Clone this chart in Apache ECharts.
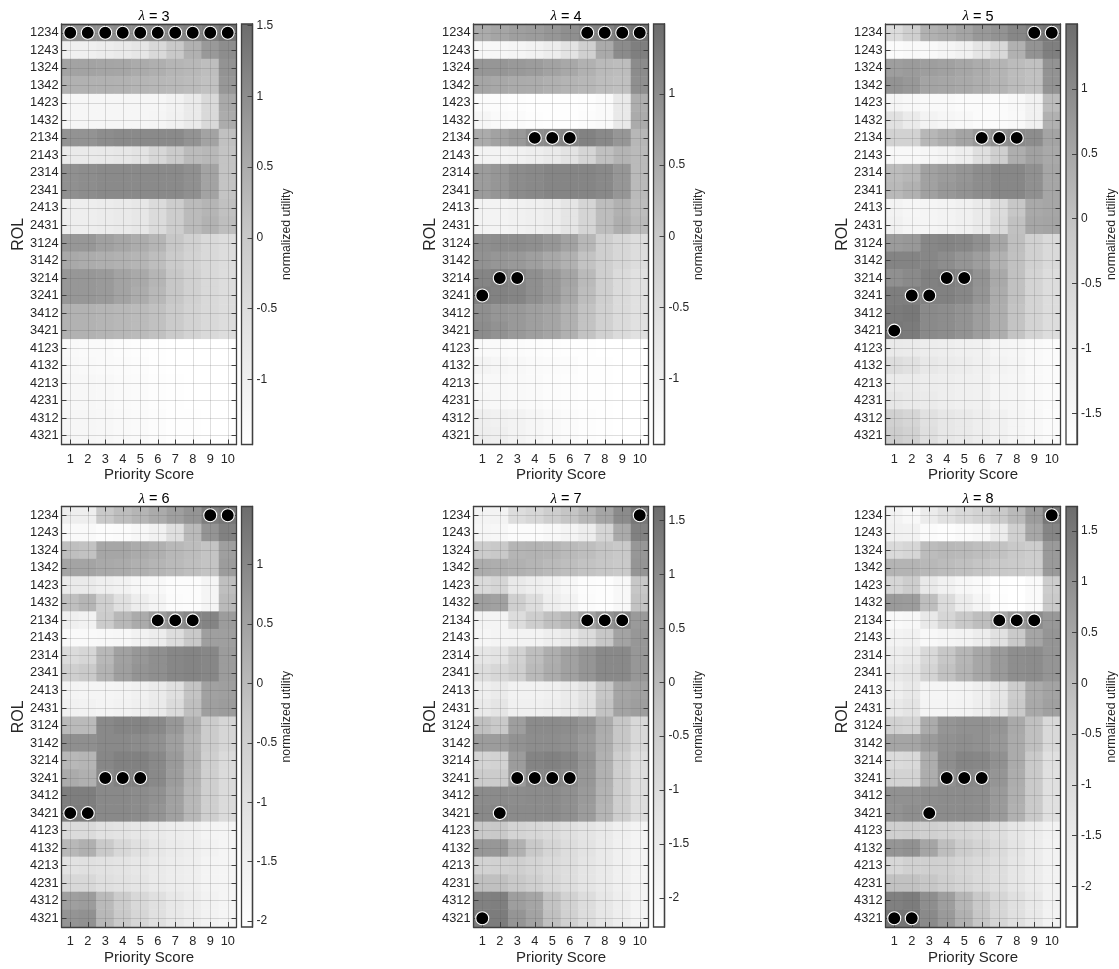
<!DOCTYPE html>
<html><head><meta charset="utf-8">
<style>html,body{margin:0;padding:0;background:#fff}#c{width:1119px;height:969px}</style>
<script src="https://cdn.jsdelivr.net/npm/echarts@6/dist/echarts.min.js"></script>
</head><body><div id="c"></div>
<script>
const scores = ['1','2','3','4','5','6','7','8','9','10'];
const rols = ['1234','1243','1324','1342','1423','1432','2134','2143','2314','2341','2413','2431','3124','3142','3214','3241','3412','3421','4123','4132','4213','4231','4312','4321'];
const lambdas = [3,4,5,6,7,8];
const rangeMin = [-1.46,-1.46,-1.74,-2.05,-2.27,-2.40];
const rangeMax = [1.51,1.49,1.50,1.49,1.63,1.74];
const cbTicks = [
 [-1,-0.5,0,0.5,1,1.5],
 [-1,-0.5,0,0.5,1],
 [-1.5,-1,-0.5,0,0.5,1],
 [-2,-1.5,-1,-0.5,0,0.5,1],
 [-2,-1.5,-1,-0.5,0,0.5,1,1.5],
 [-2,-1.5,-1,-0.5,0,0.5,1,1.5]
];
const bestL3 = ['1234','1234','1234','1234','1234','1234','1234','1234','1234','1234'];
const bestL4 = ['3241','3214','3214','2134','2134','2134','1234','1234','1234','1234'];
const bestL5 = ['3421','3241','3241','3214','3214','2134','2134','2134','1234','1234'];
const bestL6 = ['3421','3421','3241','3241','3241','2134','2134','2134','1234','1234'];
const bestL7 = ['4321','3421','3241','3241','3241','3241','2134','2134','2134','1234'];
const bestL8 = ['4321','4321','3421','3241','3241','3241','2134','2134','2134','1234'];

const utilL3 = [
[.95,.95,.95,1,1,1.05,1.1,1.15,1.25,1.4],
[-1,-1,-.92,-.85,-.73,-.4,0,.42,.82,1],
[.65,.65,.62,.6,.52,.45,.35,.3,.2,.9],
[.42,.42,.42,.4,.35,.32,.28,.22,.15,.85],
[-1.2,-1.2,-1.2,-1.2,-1.2,-1.18,-1.08,-.85,-.4,.55],
[-1.2,-1.2,-1.2,-1.2,-1.18,-1.15,-1.05,-.85,-.4,.5],
[.9,.9,1,1.05,1.05,1.05,1.05,.9,.65,.15],
[-.85,-.85,-.8,-.75,-.65,-.35,-.05,.25,.3,.1],
[.95,1,1.05,1.05,1.05,1.05,1.05,.95,.65,.1],
[.95,1,1.05,1.05,1.05,1.05,1.05,.95,.65,.1],
[-.95,-.95,-.9,-.85,-.75,-.45,-.1,.25,.35,.15],
[-.95,-.95,-.9,-.85,-.75,-.45,-.1,.25,.4,.2],
[.85,.85,.7,.6,.5,.35,.05,-.2,-.4,-.5],
[.55,.5,.45,.4,.35,.2,-.05,-.25,-.4,-.5],
[.85,.85,.8,.65,.55,.35,.05,-.2,-.4,-.5],
[.85,.85,.8,.65,.5,.3,.05,-.2,-.4,-.5],
[.4,.4,.35,.3,.25,.15,-.05,-.25,-.4,-.5],
[.4,.4,.35,.3,.25,.15,-.05,-.25,-.4,-.5],
[-1.28,-1.3,-1.32,-1.36,-1.4,-1.42,-1.45,-1.46,-1.46,-1.46],
[-1.25,-1.28,-1.3,-1.34,-1.38,-1.42,-1.45,-1.46,-1.46,-1.46],
[-1.22,-1.22,-1.26,-1.3,-1.35,-1.4,-1.44,-1.46,-1.46,-1.46],
[-1.22,-1.22,-1.26,-1.3,-1.35,-1.4,-1.44,-1.46,-1.46,-1.46],
[-1.2,-1.2,-1.22,-1.28,-1.32,-1.38,-1.42,-1.44,-1.46,-1.46],
[-1.2,-1.2,-1.22,-1.28,-1.32,-1.38,-1.42,-1.44,-1.46,-1.46]];
const utilL4 = [
[.5,.6,.7,.75,.85,.95,1.1,1.15,1.3,1.4],
[-1.26,-1.22,-1.16,-1.08,-.92,-.66,-.17,.52,1.02,1.2],
[.85,.85,.8,.75,.65,.55,.4,.25,.2,1],
[.6,.55,.5,.48,.42,.35,.3,.2,.15,.95],
[-1.35,-1.38,-1.4,-1.42,-1.44,-1.44,-1.4,-1.3,-.8,.45],
[-1.2,-1.3,-1.35,-1.4,-1.42,-1.42,-1.38,-1.3,-.8,.5],
[.5,.65,.8,1,1.05,1.1,1.15,1.05,.85,.3],
[-1.1,-1.1,-1.05,-.95,-.85,-.65,-.3,.15,.35,.25],
[.75,.85,1,1.05,1.1,1.1,1.1,1.05,.85,.25],
[.75,.85,1,1.05,1.1,1.1,1.1,1.05,.85,.25],
[-1.1,-1.1,-1.05,-1,-.9,-.7,-.3,.2,.4,.2],
[-1.1,-1.1,-1.05,-1,-.9,-.7,-.3,.2,.45,.25],
[.95,1,1,.95,.85,.65,.3,-.15,-.35,-.5],
[.9,.85,.8,.7,.55,.4,.1,-.15,-.35,-.5],
[1.1,1.2,1.1,.95,.8,.6,.25,-.15,-.45,-.6],
[1.2,1.15,1.1,.95,.8,.55,.2,-.15,-.45,-.6],
[.95,.85,.8,.7,.6,.4,.1,-.2,-.45,-.6],
[1,.9,.8,.7,.6,.4,.1,-.2,-.45,-.6],
[-1.3,-1.32,-1.35,-1.38,-1.4,-1.42,-1.44,-1.46,-1.46,-1.46],
[-1.15,-1.2,-1.25,-1.3,-1.34,-1.38,-1.42,-1.44,-1.46,-1.46],
[-1.25,-1.25,-1.28,-1.32,-1.36,-1.4,-1.42,-1.44,-1.46,-1.46],
[-1.22,-1.25,-1.28,-1.32,-1.36,-1.4,-1.42,-1.44,-1.46,-1.46],
[-1,-1.05,-1.12,-1.2,-1.28,-1.34,-1.4,-1.42,-1.45,-1.46],
[-.95,-1,-1.1,-1.2,-1.28,-1.34,-1.4,-1.42,-1.45,-1.46]];
const utilL5 = [
[-.66,-.3,.3,.4,.55,.75,.85,1.05,1.25,1.35],
[-1.6,-1.55,-1.53,-1.4,-1.3,-.9,-.55,.3,.85,1.18],
[.65,.7,.65,.6,.5,.4,.25,.1,0,.85],
[.85,.75,.55,.5,.45,.35,.25,.1,0,.85],
[-1.4,-1.5,-1.55,-1.55,-1.6,-1.6,-1.62,-1.5,-1.3,.1],
[-.8,-1.1,-1.35,-1.45,-1.52,-1.6,-1.62,-1.55,-1.3,.3],
[-.4,-.4,.2,.35,.55,.75,.9,1,.95,.55],
[-1.5,-1.5,-1.45,-1.35,-1.2,-.75,-.3,.35,.6,.45],
[.1,.2,.6,.7,.8,.95,1.05,1.05,.9,.5],
[.15,.3,.6,.75,.85,.95,1.05,1.05,.9,.5],
[-1.35,-1.45,-1.4,-1.35,-1.25,-1.05,-.65,-.1,.45,.5],
[-1.3,-1.4,-1.4,-1.35,-1.25,-1.05,-.6,0,.5,.55],
[.7,.75,1.05,1.1,1.05,.9,.5,.05,-.35,-.6],
[1.1,1.1,1.05,.95,.8,.65,.3,0,-.35,-.6],
[.9,1,1.15,1.2,1.1,.85,.45,0,-.45,-.7],
[1.2,1.2,1.15,1.15,1.05,.8,.4,0,-.45,-.7],
[1.25,1.3,1,.95,.85,.65,.35,-.05,-.45,-.7],
[1.3,1.25,1,.95,.85,.65,.35,-.05,-.45,-.7],
[-1.05,-1.1,-1.15,-1.2,-1.25,-1.3,-1.4,-1.45,-1.55,-1.6],
[-.7,-.8,-1,-1.1,-1.15,-1.25,-1.35,-1.4,-1.55,-1.6],
[-1.1,-1.1,-1.15,-1.2,-1.25,-1.3,-1.4,-1.45,-1.55,-1.6],
[-.95,-1.05,-1.1,-1.18,-1.25,-1.3,-1.4,-1.45,-1.55,-1.6],
[-.35,-.5,-.8,-.95,-1.05,-1.2,-1.3,-1.4,-1.5,-1.6],
[-.25,-.4,-.75,-.95,-1.05,-1.2,-1.3,-1.4,-1.5,-1.6]];
const utilL6 = [
[-1.45,-1.45,-.3,-.05,.1,.3,.55,.75,1.15,1.3],
[-1.85,-1.85,-1.95,-1.9,-1.78,-1.55,-.95,0,.75,1.1],
[-.1,-.15,.4,.4,.3,.2,.05,-.05,-.2,.55],
[.45,.45,.35,.3,.2,.1,0,-.1,-.2,.6],
[-1.3,-1.3,-1.5,-1.6,-1.75,-1.8,-1.95,-1.95,-1.7,-.1],
[-.1,.1,-.5,-1,-1.4,-1.65,-1.9,-1.95,-1.7,0],
[-1.5,-1.6,-.4,.05,.3,.6,.85,1,1.05,.6],
[-1.85,-1.85,-1.8,-1.75,-1.6,-1.4,-.9,-.3,.55,.55],
[-.85,-.7,.05,.5,.7,.85,1,1.05,1,.6],
[-.5,-.35,.15,.55,.75,.85,1,1.05,1,.6],
[-1.65,-1.7,-1.7,-1.65,-1.55,-1.35,-1,-.2,.5,.55],
[-1.55,-1.6,-1.65,-1.6,-1.5,-1.3,-.85,-.1,.55,.6],
[0,0,.95,1.05,1.05,.95,.7,.2,-.4,-.7],
[.85,.85,.95,.95,.9,.8,.55,.1,-.4,-.7],
[.05,.1,1,1.1,1.1,.95,.65,.15,-.5,-.85],
[.3,.2,.95,1.1,1.1,.95,.6,.1,-.5,-.85],
[1.15,1.15,.95,.95,.9,.8,.5,.05,-.5,-.85],
[1.2,1.2,.95,.95,.9,.75,.5,.05,-.5,-.85],
[-.85,-.85,-1.05,-1.1,-1.2,-1.3,-1.4,-1.5,-1.65,-1.7],
[.05,.2,-.35,-.75,-1,-1.2,-1.35,-1.45,-1.6,-1.7],
[-1.05,-1,-1.05,-1.1,-1.2,-1.3,-1.4,-1.5,-1.65,-1.7],
[-.75,-.75,-.95,-1.05,-1.15,-1.3,-1.4,-1.5,-1.65,-1.7],
[.55,.6,0,-.4,-.75,-1,-1.25,-1.4,-1.6,-1.7],
[.75,.8,.05,-.35,-.7,-1,-1.25,-1.4,-1.6,-1.7]];
const utilL7 = [
[-1.85,-1.8,-1,-.8,-.5,-.25,.05,.45,1,1.4],
[-1.9,-1.95,-2.1,-2.1,-2,-1.85,-1.55,-.75,.35,1.2],
[-.45,-.35,.1,.15,.1,0,-.1,-.25,-.35,.75],
[.3,.25,.2,.1,0,-.1,-.2,-.3,-.4,.8],
[-.9,-.75,-1.4,-1.6,-1.75,-1.95,-2.15,-2.2,-2,-.3],
[.6,.55,-.55,-1,-1.6,-1.8,-2.1,-2.2,-2,-.2],
[-1.85,-1.85,-1,-.5,-.15,.05,.5,.85,1.05,.7],
[-1.9,-1.85,-1.8,-1.8,-1.6,-1.4,-.95,-.3,.5,.75],
[-1.3,-1.2,-.65,-.1,.25,.55,.8,1.05,1.05,.75],
[-1,-.8,-.55,0,.3,.55,.8,1.05,1.05,.75],
[-1.65,-1.5,-1.75,-1.75,-1.7,-1.5,-1.15,-.3,.45,.55],
[-1.45,-1.25,-1.7,-1.7,-1.6,-1.45,-1.1,-.2,.5,.6],
[-.15,-.35,.6,1,1,.95,.8,.3,-.3,-.85],
[.65,.65,.85,.95,.95,.9,.7,.25,-.3,-.85],
[-.7,-.65,.65,1.15,1.2,1.1,.8,.2,-.5,-1.05],
[-.45,-.45,.65,1.1,1.15,1.05,.75,.2,-.5,-1.05],
[1,1,.95,1,1,.9,.7,.15,-.5,-1.05],
[1.05,1.1,1,1,1,.9,.65,.1,-.5,-1.05],
[-.4,-.35,-.7,-.8,-.95,-1.1,-1.25,-1.45,-1.7,-1.85],
[.75,.75,.2,-.35,-.75,-1,-1.2,-1.45,-1.7,-1.85],
[-.65,-.6,-.55,-.7,-.9,-1.05,-1.25,-1.45,-1.7,-1.85],
[-.15,-.15,-.35,-.55,-.85,-1.05,-1.25,-1.45,-1.7,-1.85],
[1.2,1.25,.6,.45,-.2,-.65,-1,-1.35,-1.6,-1.85],
[1.3,1.3,.8,.5,-.15,-.6,-1,-1.35,-1.6,-1.85]];
const utilL8 = [
[-1.9,-2.1,-1.6,-1.2,-.9,-.7,-.4,0,.7,1.5],
[-1.8,-1.85,-2.25,-2.3,-2.2,-2.05,-1.6,-.6,.45,1.2],
[-.95,-.8,-.05,.05,0,-.1,-.2,-.35,-.5,.75],
[.15,.15,.05,-.05,-.15,-.25,-.35,-.45,-.55,.75],
[-.8,-.5,-1.5,-1.8,-2.05,-2.2,-2.35,-2.4,-2.2,-.5],
[.75,.7,-.1,-1,-1.6,-2,-2.3,-2.4,-2.2,-.4],
[-2.15,-2.05,-1.5,-.8,-.35,-.1,.4,.8,1.05,.8],
[-1.9,-1.8,-2.1,-2,-1.9,-1.65,-1.2,-.4,.5,.85],
[-1.65,-1.5,-.9,-.3,.1,.45,.75,1,1.05,.85],
[-1.45,-1.3,-.75,-.2,.15,.45,.75,1,1.05,.85],
[-1.75,-1.5,-2,-2,-1.95,-1.75,-1.35,-.5,.35,.55],
[-1.5,-1.3,-1.95,-1.95,-1.9,-1.7,-1.3,-.4,.4,.6],
[-.65,-.75,.35,.85,.95,.95,.85,.4,-.15,-.9],
[.5,.5,.75,.95,1,.95,.8,.35,-.15,-.9],
[-1,-.9,.3,1,1.2,1.15,.95,.35,-.4,-1.15],
[-.7,-.7,.3,.95,1.15,1.1,.85,.3,-.4,-1.15],
[.95,.95,1,1.05,1.05,1,.75,.25,-.4,-1.15],
[.9,1,1.05,1.05,1.05,1,.75,.2,-.4,-1.15],
[-.6,-.55,-.6,-.7,-.8,-.95,-1.1,-1.35,-1.6,-1.85],
[.85,.95,.5,-.1,-.5,-.75,-1,-1.3,-1.6,-1.85],
[-.85,-.65,-.6,-.65,-.8,-.95,-1.1,-1.35,-1.6,-1.85],
[-.2,-.2,-.3,-.55,-.75,-.95,-1.1,-1.35,-1.6,-1.85],
[1.3,1.4,1,.65,.1,-.35,-.8,-1.15,-1.5,-1.85],
[1.55,1.55,1.1,.75,.2,-.3,-.8,-1.15,-1.5,-1.85]];

const utilAll = [utilL3,utilL4,utilL5,utilL6,utilL7,utilL8];
const bestAll = [bestL3,bestL4,bestL5,bestL6,bestL7,bestL8];

const panelX = [[61.5,241.5],[473.5,653.5],[885.5,1066]];
const panelY = [24,506.5];
const PW = 175, PH = 420.5, BW = 11;
const RAMP = ['#ffffff','#e6e6e6','#c8c8c8','#9c9c9c','#6c6c6c'];
const INK = '#262626', FRAME = '#404040', GRIDC = 'rgba(90,90,90,0.2)';
const FONT = '"Liberation Sans", Arial, sans-serif';

const opt = {animation:false, backgroundColor:'#fff', title:[], grid:[], xAxis:[], yAxis:[], visualMap:[], series:[]};
lambdas.forEach((lam,i)=>{
  const col = i%3, rowI = Math.floor(i/3);
  const gx = panelX[col][0], bx = panelX[col][1], gy = panelY[rowI];
  opt.title.push({text:'{l|\u03bb} = '+lam, left:gx+PW/2, top:gy-20, textAlign:'center',
    textStyle:{rich:{l:{fontFamily:'"Liberation Serif", serif',fontStyle:'italic',fontSize:15,color:'#000'}},fontFamily:FONT,fontSize:14.5,fontWeight:'normal',color:'#000'}});
  opt.grid.push({left:gx,top:gy,width:PW,height:PH,containLabel:false});
  opt.grid.push({left:bx,top:gy,width:BW,height:PH,containLabel:false});
  const g = i*2;
  const mkCat=(extra)=>Object.assign({type:'category',gridIndex:g,z:10,silent:true,
    axisLine:{show:true,onZero:false,lineStyle:{color:FRAME,width:1.3}},
    axisTick:{show:true,inside:true,length:5,alignWithLabel:true,lineStyle:{color:FRAME,width:1}},
    splitArea:{show:false}},extra);
  opt.xAxis.push(mkCat({data:scores,position:'bottom',name:'Priority Score',nameLocation:'middle',nameGap:23,
    nameTextStyle:{fontFamily:FONT,fontSize:15,color:INK},
    splitLine:{show:true,alignWithLabel:true,lineStyle:{color:GRIDC,width:1}},
    axisLabel:{show:true,interval:0,fontFamily:FONT,fontSize:12.8,color:INK,margin:8}}));
  opt.xAxis.push(mkCat({data:scores,position:'top',axisLabel:{show:false},splitLine:{show:false}}));
  opt.yAxis.push(mkCat({data:rols,inverse:true,position:'left',name:'ROL',nameLocation:'middle',nameGap:35,
    nameTextStyle:{fontFamily:FONT,fontSize:16,color:INK},
    splitLine:{show:true,alignWithLabel:true,lineStyle:{color:GRIDC,width:1}},
    axisLabel:{show:true,interval:0,fontFamily:FONT,fontSize:12.8,color:INK,margin:3}}));
  opt.yAxis.push(mkCat({data:rols,inverse:true,position:'right',axisLabel:{show:false},splitLine:{show:false}}));
  const ticks = cbTicks[i];
  opt.xAxis.push({type:'value',gridIndex:g+1,min:0,max:1,show:false});
  opt.yAxis.push({type:'value',gridIndex:g+1,min:rangeMin[i],max:rangeMax[i],position:'right',z:10,silent:true,
    name:'normalized utility',nameLocation:'middle',nameRotate:90,nameGap:33,
    nameTextStyle:{fontFamily:FONT,fontSize:12.3,color:INK,verticalAlign:'middle'},
    axisLine:{show:true,onZero:false,lineStyle:{color:FRAME,width:1.3}},
    axisTick:{show:true,inside:true,length:5,customValues:ticks,lineStyle:{color:FRAME,width:1}},
    splitLine:{show:false},
    axisLabel:{show:true,customValues:ticks,formatter:v=>String(v),fontFamily:FONT,fontSize:12,color:INK,margin:4,showMinLabel:true,showMaxLabel:true}});
  const hm = [];
  utilAll[i].forEach((row,r)=>row.forEach((v,c)=>hm.push([c,r,v])));
  opt.series.push({type:'heatmap',xAxisIndex:i*3,yAxisIndex:i*3,data:hm,z:2,silent:true,progressive:0,
    itemStyle:{borderWidth:0},emphasis:{disabled:true}});
  opt.visualMap.push({type:'continuous',show:false,seriesIndex:i*3,dimension:2,min:rangeMin[i],max:rangeMax[i],
    inRange:{color:RAMP}});
  opt.series.push({type:'scatter',xAxisIndex:i*3,yAxisIndex:i*3,z:20,silent:true,symbol:'circle',symbolSize:13,
    itemStyle:{color:'#000',borderColor:'#fff',borderWidth:1.1,opacity:1},
    data:bestAll[i].map((r,c)=>[scores[c],r])});
  opt.series.push({type:'custom',xAxisIndex:i*3+2,yAxisIndex:i*3+2,z:2,silent:true,clip:false,
    data:[[0,rangeMin[i],1,rangeMax[i]]],
    encode:{x:[0,2],y:[1,3]},
    renderItem:(p,api)=>{
      const a=api.coord([api.value(0),api.value(1)]), b=api.coord([api.value(2),api.value(3)]);
      const stops = RAMP.map((c,k)=>({offset:1-k/(RAMP.length-1),color:c})).reverse();
      return {type:'rect',shape:{x:a[0],y:b[1],width:b[0]-a[0],height:a[1]-b[1]},
        style:{stroke:FRAME,lineWidth:1.3,fill:new echarts.graphic.LinearGradient(0,0,0,1,stops)}};
    }});
});
const chart = echarts.init(document.getElementById('c'),null,{renderer:'canvas',width:1119,height:969});
chart.setOption(opt);
</script></body></html>
